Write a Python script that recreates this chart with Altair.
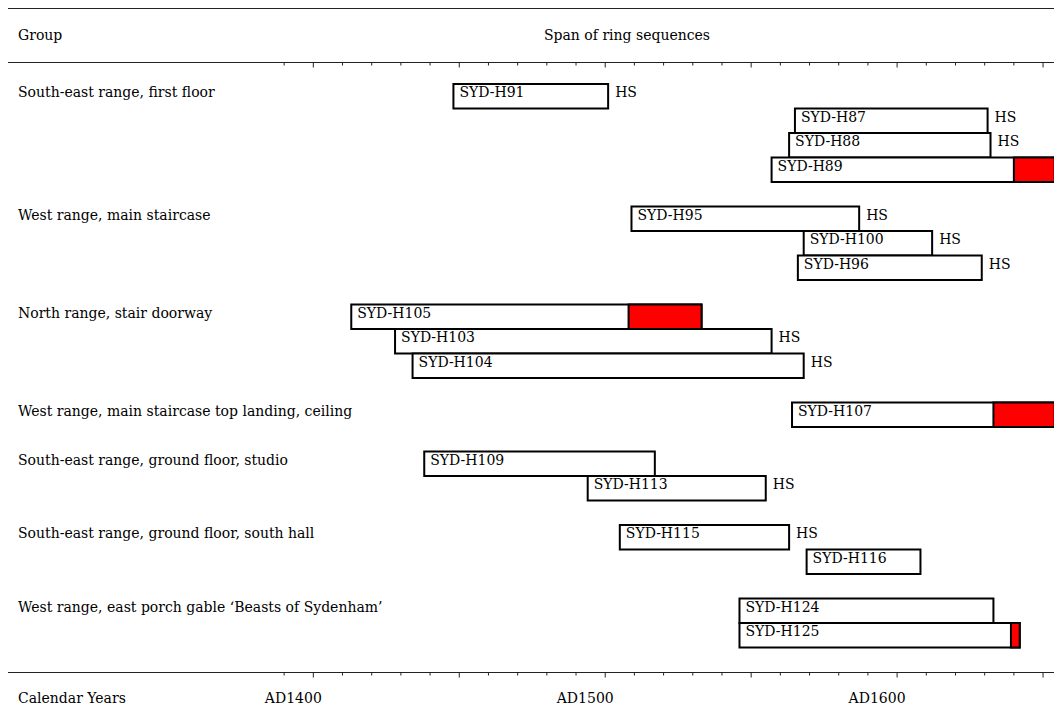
import altair as alt
import pandas as pd

# ---- data ----
samples = ["SYD-H91", "SYD-H87", "SYD-H88", "SYD-H89", "SYD-H95", "SYD-H100", "SYD-H96",
           "SYD-H105", "SYD-H103", "SYD-H104", "SYD-H107", "SYD-H109", "SYD-H113",
           "SYD-H115", "SYD-H116", "SYD-H124", "SYD-H125"]
rows = [0, 1, 2, 3, 5, 6, 7, 9, 10, 11, 13, 15, 16, 18, 19, 21, 22]
start_years = [1448, 1565, 1563, 1557, 1509, 1568, 1566, 1413, 1428, 1434, 1564, 1438, 1494,
               1505, 1569, 1546, 1546]
end_years = [1501, 1631, 1632, 1654, 1587, 1612, 1629, 1533, 1557, 1568, 1654, 1517, 1555,
             1563, 1608, 1633, 1642]
sapwood_start = [None, None, None, 1640, None, None, None, 1508, None, None, 1633, None, None,
                 None, None, None, 1639]
heartwood_sapwood = [True, True, True, False, True, True, True, False, True, True, False, False,
                     True, True, False, False, False]

groups = ["South-east range, first floor", "West range, main staircase",
          "North range, stair doorway", "West range, main staircase top landing, ceiling",
          "South-east range, ground floor, studio", "South-east range, ground floor, south hall",
          "West range, east porch gable \u2018Beasts of Sydenham\u2019"]
group_rows = [0, 5, 9, 13, 15, 18, 21]

tick_years = list(range(1390, 1660, 10))
major_tick_years = [1400, 1450, 1500, 1550, 1600, 1650]
label_years = [1400, 1500, 1600]
label_texts = ["AD1400", "AD1500", "AD1600"]

FONT = "DejaVu Serif"
FS = 14
W, H = 1046, 698

bars = pd.DataFrame({"sample": samples, "row": rows, "start": start_years, "end": end_years,
                     "sap": sapwood_start, "hs": heartwood_sapwood})
sap = bars.dropna(subset=["sap"])
hs = bars[bars["hs"]]
grp = pd.DataFrame({"group": groups, "row": group_rows})
ticks = pd.DataFrame({"year": [y for y in tick_years if y not in major_tick_years]})
majors = pd.DataFrame({"year": major_tick_years})
labels = pd.DataFrame({"year": label_years, "text": label_texts})

xs = alt.Scale(domain=[1295.4, 1653.75], nice=False, zero=False)
ys = alt.Scale(domain=[-3.6, 24.885], nice=False, zero=False, reverse=True)

X = lambda f: alt.X(f, type="quantitative", scale=xs, axis=None)
Y = lambda f: alt.Y(f, type="quantitative", scale=ys, axis=None)

base_bars = alt.Chart(bars)

rect = base_bars.mark_rect(fill="white", stroke="black", strokeWidth=2).transform_calculate(
    y0="datum.row - 0.5", y1="datum.row + 0.5"
).encode(x=X("start"), x2="end:Q", y=Y("y0"), y2="y1:Q")

red = alt.Chart(sap).mark_rect(fill="#ff0000", stroke="black", strokeWidth=2).transform_calculate(
    y0="datum.row - 0.5", y1="datum.row + 0.5"
).encode(x=X("sap"), x2="end:Q", y=Y("y0"), y2="y1:Q")

bar_text = base_bars.mark_text(align="left", baseline="alphabetic", font=FONT, fontSize=FS,
                               dx=6, dy=1, color="black").encode(
    x=X("start"), y=Y("row"), text="sample:N")

hs_text = alt.Chart(hs).mark_text(align="left", baseline="alphabetic", font=FONT, fontSize=FS,
                                  dx=7, dy=1, color="black").encode(
    x=X("end"), y=Y("row"), text=alt.value("HS"))

grp_text = alt.Chart(grp).mark_text(align="left", baseline="alphabetic", font=FONT, fontSize=FS,
                                    dy=1, color="black").encode(
    x=alt.value(10), y=Y("row"), text="group:N")

line_color = "#222222"
one = pd.DataFrame({"a": [0]})
top_line = alt.Chart(one).mark_rule(color=line_color, strokeWidth=1).encode(
    x=alt.value(0), x2=alt.value(W), y=alt.value(0.5))
head_line = alt.Chart(one).mark_rule(color=line_color, strokeWidth=1).encode(
    x=alt.value(0), x2=alt.value(W), y=alt.value(54.5))
bot_line = alt.Chart(one).mark_rule(color=line_color, strokeWidth=1).encode(
    x=alt.value(0), x2=alt.value(W), y=alt.value(664.5))

def tick_layer(df, y0, length):
    return alt.Chart(df).mark_rule(color=line_color, strokeWidth=1).encode(
        x=X("year"), y=alt.value(y0), y2=alt.value(y0 + length))

top_minor = tick_layer(ticks, 54.5, 3)
top_major = tick_layer(majors, 54.5, 5)
bot_minor = tick_layer(ticks, 664.5, 3)
bot_major = tick_layer(majors, 664.5, 5)

axis_labels = alt.Chart(labels).mark_text(align="center", baseline="alphabetic", font=FONT,
                                          fontSize=FS, dx=-20, color="black").encode(
    x=X("year"), y=alt.value(695), text="text:N")

group_head = alt.Chart(one).mark_text(align="left", baseline="alphabetic", font=FONT, fontSize=FS,
                                      color="black").encode(
    x=alt.value(10), y=alt.value(32), text=alt.value("Group"))
span_head = alt.Chart(one).mark_text(align="center", baseline="alphabetic", font=FONT,
                                     fontSize=FS, color="black").encode(
    x=alt.value(619), y=alt.value(32), text=alt.value("Span of ring sequences"))
cal_head = alt.Chart(one).mark_text(align="left", baseline="alphabetic", font=FONT, fontSize=FS,
                                    color="black").encode(
    x=alt.value(10), y=alt.value(695), text=alt.value("Calendar Years"))

chart = alt.layer(
    top_line, head_line, bot_line, top_minor, top_major, bot_minor, bot_major,
    rect, red, bar_text, hs_text, grp_text, axis_labels, group_head, span_head, cal_head
).properties(
    width=W, height=H, autosize=alt.AutoSizeParams(type="none"), padding=0, background="white"
).configure_view(stroke=None)

chart.save("out.html", embed_options={"renderer": "svg", "actions": False})
